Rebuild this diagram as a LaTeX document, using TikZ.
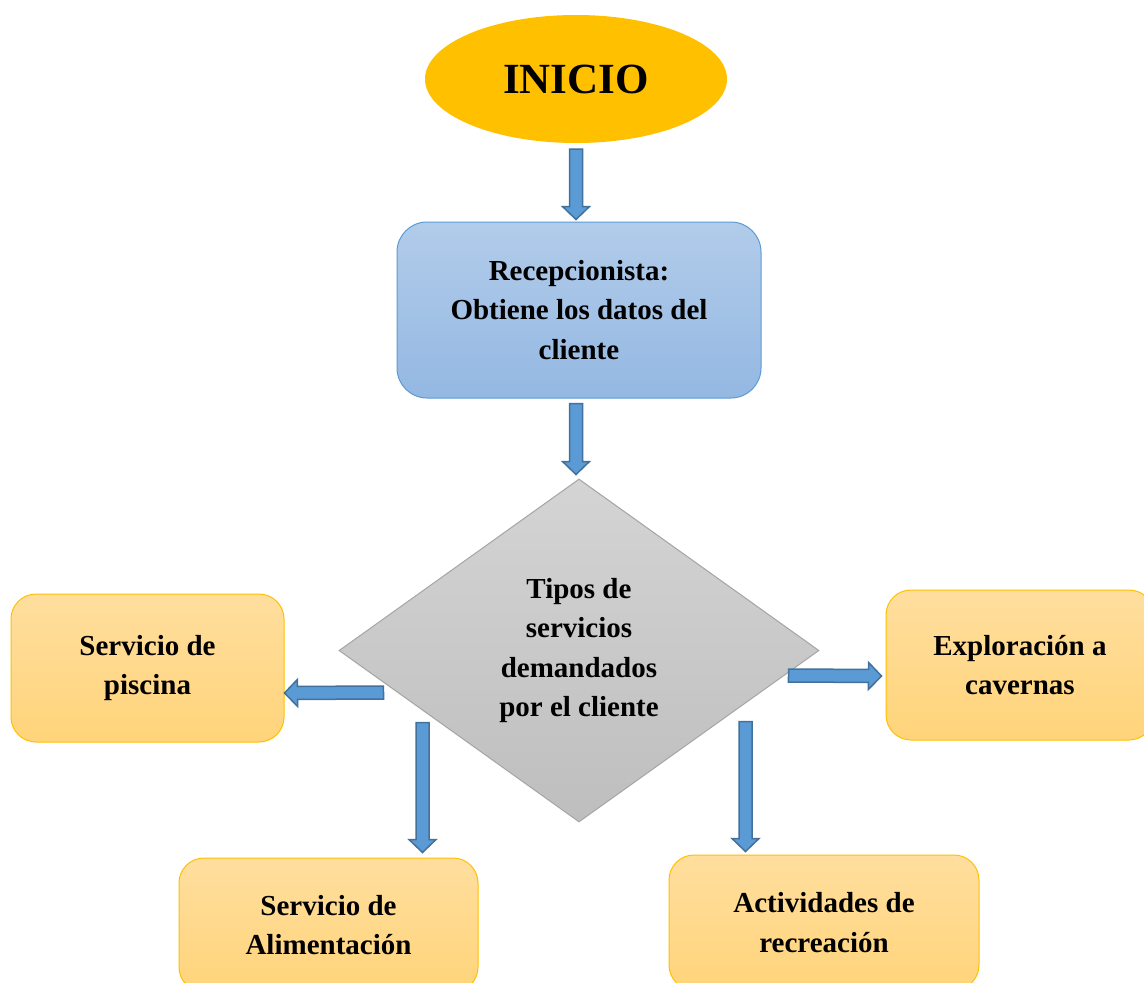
\documentclass[tikz,border=0pt]{standalone}
\usepackage{fontspec}
\setmainfont{Liberation Serif}
\usetikzlibrary{shapes.geometric,calc}

\definecolor{oro}{RGB}{255, 192, 0}
\definecolor{azularriba}{RGB}{178, 204, 234}
\definecolor{azulabajo}{RGB}{148, 184, 226}
\definecolor{azulborde}{RGB}{91, 155, 213}
\definecolor{flechaborde}{RGB}{65, 113, 156}
\definecolor{naranjaarriba}{RGB}{255, 222, 158}
\definecolor{naranjaabajo}{RGB}{255, 212, 122}
\definecolor{grisarriba}{RGB}{212, 212, 212}
\definecolor{grisabajo}{RGB}{190, 190, 190}
\definecolor{grisborde}{RGB}{165, 165, 165}

\tikzset{
    texto/.style   = {align=center, inner sep=0pt,
                      font=\fontsize{29}{39.5}\selectfont\bfseries},
    caja/.style    = {texto, draw=oro, line width=1pt,
                      top color=naranjaarriba, bottom color=naranjaabajo,
                      rounded corners=25pt},
    flecha/.style  = {draw=flechaborde, fill=azulborde, line width=1.5pt,
                      line join=miter}
}

% flecha de bloque entre dos puntos con nombre
\newcommand{\flecha}[2]{%
    \coordinate (#1-h) at ($(#2)!13pt!(#1)$);
    \draw[flecha] ($(#1)!6.5pt!90:(#2)$) -- ($(#1-h)!6.5pt!90:(#2)$)
        -- ($(#1-h)!13.5pt!90:(#2)$) -- (#2)
        -- ($(#1-h)!13.5pt!-90:(#2)$) -- ($(#1-h)!6.5pt!-90:(#2)$)
        -- ($(#1)!6.5pt!-90:(#2)$) -- cycle;}

\begin{document}
\begin{tikzpicture}[x=1pt, y=-1pt]
    \useasboundingbox (0,0) rectangle (1144,983);
    \fill[white] (0,0) rectangle (1144,983);
    \clip (0,0) rectangle (1144,983);

    % inicio
    \node[
        ellipse,
        fill            = oro,
        minimum width   = 302pt,
        minimum height  = 128pt,
        inner sep       = 0pt,
        font            = \fontsize{43}{50}\selectfont\bfseries
    ] (inicio) at (576,79) {INICIO};

    % recepcionista
    \node[
        texto,
        draw            = azulborde,
        line width      = 1pt,
        top color       = azularriba,
        bottom color    = azulabajo,
        rounded corners = 30pt,
        minimum width   = 364pt,
        minimum height  = 176pt
    ] (recep) at (579,310) {Recepcionista:\\ Obtiene los datos del\\ cliente};

    % decision
    \node[
        texto,
        diamond,
        aspect          = 1.4,
        draw            = grisborde,
        line width      = 1pt,
        top color       = grisarriba,
        bottom color    = grisabajo,
        minimum width   = 480pt,
        minimum height  = 343pt
    ] (rombo) at (579,650.5) {Tipos de\\ servicios\\ demandados\\ por el cliente};

    % servicios
    \node[caja, minimum width=273pt, minimum height=148pt]
        (piscina) at (147.5,668) {Servicio de\\ piscina};
    \node[caja, minimum width=268pt, minimum height=150pt]
        (explor) at (1020,665) {Exploración a\\ cavernas};
    \node[caja, minimum width=299pt, minimum height=134pt]
        (alim) at (328.5,925) {Servicio de\\ Alimentación};
    \node[caja, minimum width=310pt, minimum height=135pt]
        (activ) at (824,922.5) {Actividades de\\ recreación};

    % flechas
    \coordinate (f1a) at ($(inicio.south)+(0,6)$);
    \coordinate (f1b) at ($(inicio.south |- recep.north)+(0,-2)$);
    \flecha{f1a}{f1b}

    \coordinate (f2a) at ($(inicio.south |- recep.south)+(0,5)$);
    \coordinate (f2b) at ($(inicio.south |- rombo.north)+(0,-4)$);
    \flecha{f2a}{f2b}

    \coordinate (f3a) at ($(rombo.west)+(45,42)$);
    \coordinate (f3b) at ($(piscina.east)+(0,25)$);
    \flecha{f3a}{f3b}

    \coordinate (f4a) at ($(rombo.west)+(84,72)$);
    \coordinate (f4b) at ($(f4a |- alim.north)+(0,-5)$);
    \flecha{f4a}{f4b}

    \coordinate (f5a) at ($(rombo.east)+(-31,25)$);
    \coordinate (f5b) at ($(explor.west)+(-4,11)$);
    \flecha{f5a}{f5b}

    \coordinate (f6a) at ($(rombo.east)+(-74,71)$);
    \coordinate (f6b) at ($(f6a |- activ.north)+(0,-3)$);
    \flecha{f6a}{f6b}
\end{tikzpicture}
\end{document}
